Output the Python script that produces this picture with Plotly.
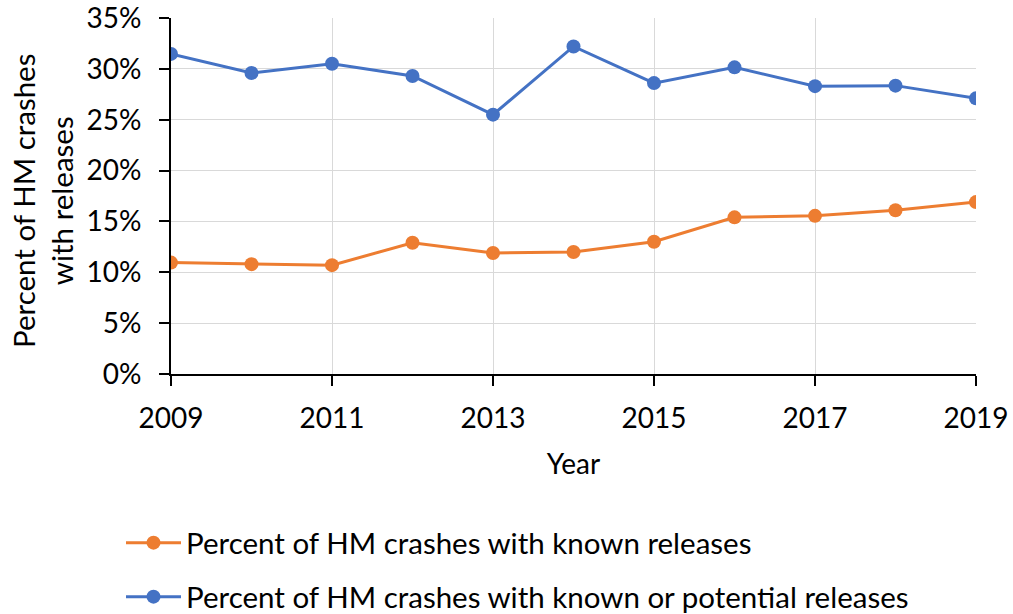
import plotly.graph_objects as go

years = [2009, 2010, 2011, 2012, 2013, 2014, 2015, 2016, 2017, 2018, 2019]
known = [0.1095, 0.108, 0.107, 0.129, 0.119, 0.120, 0.130, 0.154, 0.1555, 0.161, 0.169]
known_or_potential = [0.3147, 0.296, 0.305, 0.293, 0.255, 0.322, 0.286, 0.3015, 0.283, 0.2835, 0.271]
y_ticks = [0, 0.05, 0.10, 0.15, 0.20, 0.25, 0.30, 0.35]
y_ticklabels = ["0%", "5%", "10%", "15%", "20%", "25%", "30%", "35%"]

name_known = "Percent of HM crashes with known releases"
name_kp = "Percent of HM crashes with known or potential releases"
y_title = "Percent of HM crashes<br>with releases"

FONT = "Lato"
L, R, T, B = 171, 37, 18, 240
W, H = 1013, 614
pw, ph = W - L - R, H - T - B

def px_x(p):
    return (p - L) / pw

def px_y(p):
    return (H - B - p) / ph

fig = go.Figure()
fig.add_trace(go.Scatter(x=years, y=known, name=name_known, mode="lines+markers",
                         line=dict(color="#ED7D31", width=3),
                         marker=dict(size=14, color="#ED7D31"), legend="legend"))
fig.add_trace(go.Scatter(x=years, y=known_or_potential, name=name_kp, mode="lines+markers",
                         line=dict(color="#4472C4", width=3),
                         marker=dict(size=14, color="#4472C4"), legend="legend2"))

leg_common = dict(xanchor="left", yanchor="middle", orientation="v",
                  itemwidth=55, font=dict(size=29.5), bgcolor="rgba(0,0,0,0)")
fig.update_layout(
    width=W, height=614,
    margin=dict(l=L, r=R, t=T, b=B, autoexpand=False),
    paper_bgcolor="white", plot_bgcolor="white",
    font=dict(family=FONT, size=28, color="#000000"),
    showlegend=True,
    legend=dict(x=px_x(121), y=px_y(543), **leg_common),
    legend2=dict(x=px_x(121), y=px_y(597), **leg_common),
)
fig.add_annotation(text=y_title, textangle=-90, xref="paper", yref="paper",
                   x=px_x(42), y=px_y(201), xanchor="center", yanchor="middle",
                   showarrow=False, font=dict(size=29.5, family=FONT, color="#000000"))
fig.update_xaxes(range=[2009, 2019], tick0=2009, dtick=2, showgrid=True, tickangle=0,
                 gridcolor="#D9D9D9", gridwidth=1.3, showline=True, linecolor="black",
                 linewidth=1.8, ticks="outside", ticklen=10, tickcolor="black", tickwidth=1.8,
                 ticklabelstandoff=8, tickfont=dict(size=28), ticklabeloverflow="allow",
                 zeroline=False, title=dict(text="Year", standoff=22, font=dict(size=28)))
fig.update_yaxes(range=[0, 0.35], tickmode="array", tickvals=y_ticks, ticktext=y_ticklabels,
                 showgrid=True,
                 gridcolor="#D9D9D9", gridwidth=1.3, showline=True, linecolor="black",
                 linewidth=1.8, ticks="outside", ticklen=10, tickcolor="black", tickwidth=1.8,
                 ticklabelstandoff=12, tickfont=dict(size=28), ticklabeloverflow="allow",
                 zeroline=False)

fig.write_html("out.html")
